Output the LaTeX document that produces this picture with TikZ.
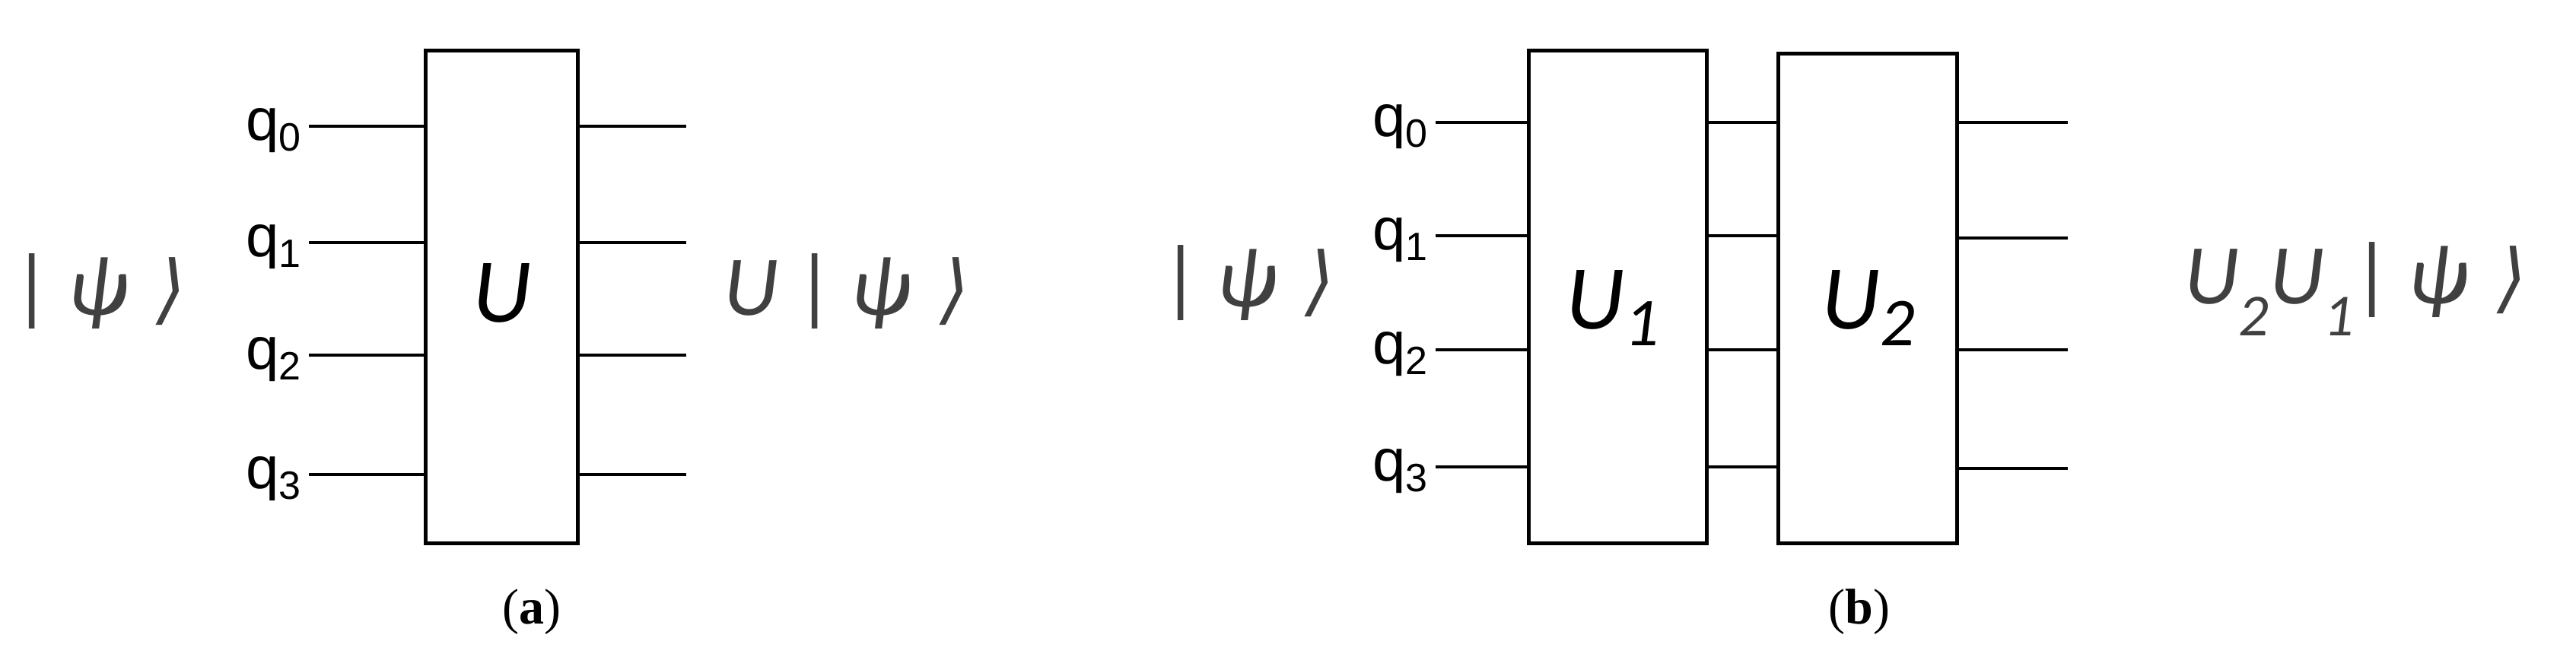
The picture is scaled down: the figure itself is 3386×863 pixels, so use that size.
\documentclass[tikz,border=0pt]{standalone}
\usepackage{fontspec}
\setmainfont{Liberation Serif}
\newfontfamily\qfont{Liberation Sans}
\newfontfamily\cfont{Carlito}
\newfontfamily\dfont{DejaVu Sans}
\definecolor{kg}{HTML}{404040}
\newcommand{\myket}{|\,\textit{ψ}\,\,{\dfont\fontsize{100}{100}\selectfont ⟩}}
\newcommand{\qsub}[1]{q\raisebox{-14pt}{\fontsize{52}{52}\selectfont #1}}
\newcommand{\usub}[1]{\raisebox{-22pt}{\fontsize{90}{90}\selectfont #1}}
\begin{document}
\begin{tikzpicture}[x=1pt,y=-1pt,
  gate/.style={draw,line width=5pt},
  wire/.style={line width=4pt},
  ql/.style={font=\qfont\fontsize{78}{80}\selectfont,anchor=east,inner sep=0},
  ket/.style={font=\cfont\itshape\fontsize{112}{112}\selectfont,text=kg,inner sep=0},
  gl/.style={font=\cfont\itshape\fontsize{120}{120}\selectfont,inner sep=0},
  sublab/.style={font=\fontsize{66}{66}\selectfont,inner sep=0}]
\useasboundingbox (0,0) rectangle (3386,863);
% (a)
\node[gate,minimum width=200pt,minimum height=648pt,inner sep=0] (U) at (659,390) {};
\node[gl] (Ut) at (660,385) {U};
\foreach \y/\i in {166/0,319/1,467/2,624/3}{
  \coordinate (al\i) at (406,\y);
  \coordinate (ar\i) at (902,\y);
  \draw[wire] (al\i) -- (U.west |- al\i);
  \draw[wire] (U.east |- ar\i) -- (ar\i);
  \node[ql] (aq\i) at (396,\y+6) {\qsub{\i}};
}
\node[ket] (kin) at (132,383) {\myket};
\node[ket] (kout) at (1113,383) {U \myket};
\node[sublab] (ca) at (699,805) {(\textbf{a})};
% (b)
\node[gate,minimum width=234pt,minimum height=648pt,inner sep=0] (U1) at (2126,390) {};
\node[gate,minimum width=235pt,minimum height=644pt,inner sep=0] (U2) at (2455,392) {};
\node[gl] (U1t) at (2120,405) {U\usub{1}};
\node[gl] (U2t) at (2456,405) {U\usub{2}};
\foreach \y/\yy/\i in {161/161/0,310/313/1,460/460/2,614/616/3}{
  \coordinate (bl\i) at (1887,\y);
  \coordinate (br\i) at (2718,\yy);
  \draw[wire] (bl\i) -- (U1.west |- bl\i);
  \draw[wire] (U1.east |- bl\i) -- (U2.west |- bl\i);
  \draw[wire] (U2.east |- br\i) -- (br\i);
  \node[ql] (bq\i) at (1877,\y+6) {\qsub{\i}};
}
\node[ket] (kin2) at (1642,372) {\myket};
\node[ket] (kout2) at (3096,380) {U\textsubscript{2}U\textsubscript{1}\myket};
\node[sublab] (cb) at (2444,805) {(\textbf{b})};
\end{tikzpicture}
\end{document}
